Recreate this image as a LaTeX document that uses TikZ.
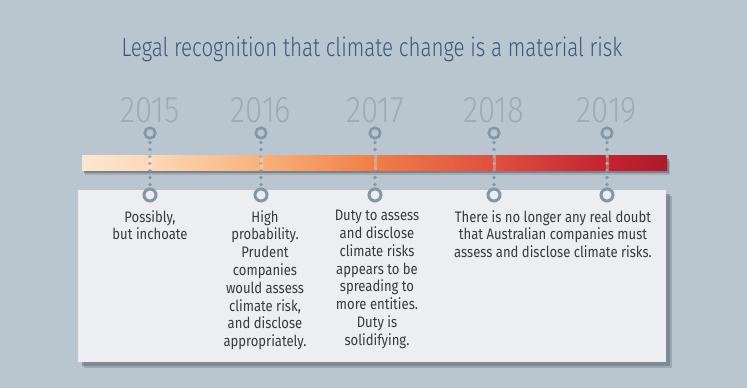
\documentclass[tikz,border=0pt]{standalone}
\usepackage{fontspec}
\usetikzlibrary{calc}
\setmainfont{Fira Sans}
\newfontfamily\condfont[FakeStretch=0.86]{Fira Sans}
\newfontfamily\titlefont[FakeStretch=0.79]{Fira Sans Light}
\newfontfamily\condlight[FakeStretch=0.84]{Fira Sans Light}
\definecolor{bgc}{HTML}{B9C6CF}
\definecolor{titlec}{HTML}{3F5676}
\definecolor{yearc}{HTML}{9DABB5}
\definecolor{ringc}{HTML}{8597A5}
\definecolor{boxc}{HTML}{EDEEF1}
\definecolor{shadowc}{HTML}{66747F}
\definecolor{textc}{HTML}{3A3A3A}
\definecolor{g0}{HTML}{FDE6D0}
\definecolor{g1}{HTML}{FCD8B6}
\definecolor{g2}{HTML}{F8B179}
\definecolor{g3}{HTML}{F17E46}
\definecolor{g4}{HTML}{E0503F}
\definecolor{g5}{HTML}{C3232F}
\definecolor{g6}{HTML}{AD1A2A}
\pgfdeclarehorizontalshading{barshade}{100bp}{color(0bp)=(g0); color(25bp)=(g0); color(31bp)=(g1); color(40.5bp)=(g2); color(50bp)=(g3); color(60bp)=(g4); color(70bp)=(g5); color(75bp)=(g6); color(100bp)=(g6)}
\tikzset{
  yearlbl/.style={font=\condlight\fontsize{37}{37}\selectfont, text=yearc, anchor=base, inner sep=0},
  topring/.style={circle, draw=ringc, line width=2.6pt, fill=bgc, minimum size=10.5pt, inner sep=0},
  botring/.style={circle, draw=ringc, line width=3pt, fill=boxc, minimum size=12pt, inner sep=0},
  dotc/.style={fill=ringc},
  bodytxt/.style={font=\condfont\fontsize{15.2}{17.8}\selectfont, text=textc, align=center, anchor=north, inner sep=0}
}
\begin{document}
\begin{tikzpicture}[x=1pt,y=-1pt]
\useasboundingbox (0,0) rectangle (747,388);
\fill[bgc] (0,0) rectangle (747,388);
% title
\node[font=\titlefont\fontsize{26}{26}\selectfont, text=titlec, anchor=base, inner sep=0] (title) at (372,56) {Legal recognition that climate change is a material risk};
% box with shadow
\fill[shadowc, opacity=0.55] (82,194) rectangle (670,366);
\fill[shadowc, opacity=0.35] (84,196) rectangle (672,368);
\fill[boxc] (78,190) rectangle (666,362);
% bar with shadow
\fill[shadowc, opacity=0.7] (84,159) rectangle (669,173);
\fill[shadowc, opacity=0.3] (85,161) rectangle (670,175);
\shade[shading=barshade] (82,155) rectangle (667,170);
% years, rings, dotted connectors
\foreach \yr/\xx in {2015/150, 2016/261, 2017/375, 2018/494, 2019/607}{
  \node[yearlbl] (y\yr) at (\xx,122) {\yr};
  \node[topring] (t\yr) at (\xx,133) {};
  \node[botring] (b\yr) at (\xx,195) {};
  \foreach \k in {0,...,6}{
    \fill[dotc] ($([yshift=-3pt]t\yr.south)!\k/6!([yshift=3pt]b\yr.north)$) circle (1.9pt);
  }
}
\foreach \xx in {150,261,375,494,607}{
  \fill[white, opacity=0.25] (\xx-1.5,155) rectangle (\xx+1.5,170);
}
% texts
\node[bodytxt] (d2015) at (150,210) {Possibly,\\but inchoate};
\node[bodytxt] (d2016) at (265,210) {High\\probability.\\Prudent\\companies\\would assess\\climate risk,\\and disclose\\appropriately.};
\node[bodytxt] (d2017) at (377,210) {Duty to assess\\and disclose\\climate risks\\appears to be\\spreading to\\more entities.\\Duty is\\solidifying.};
\node[bodytxt] (d2018) at (553,210) {There is no longer any real doubt\\that Australian companies must\\assess and disclose climate risks.};
\end{tikzpicture}
\end{document}
